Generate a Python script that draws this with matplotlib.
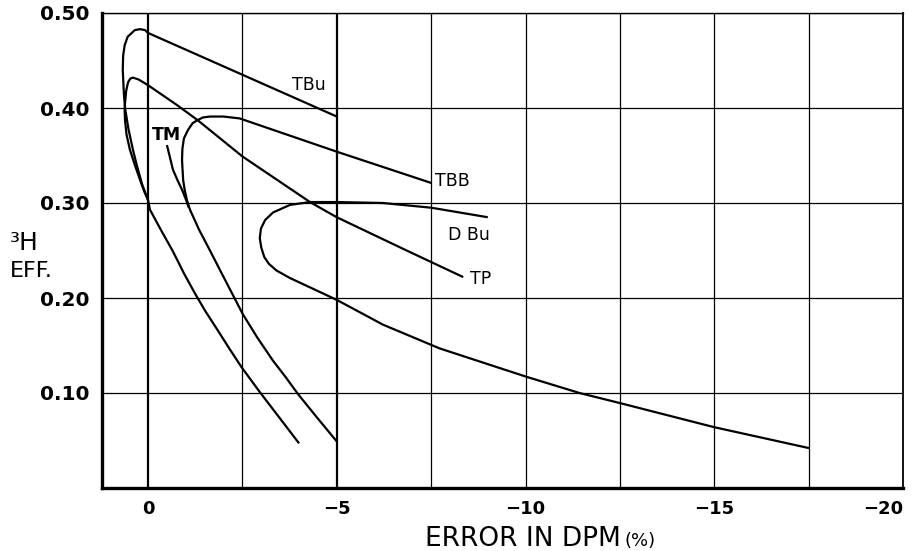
"""Tritium counting efficiency vs. error in DPM for several quench curves."""

import matplotlib

matplotlib.use("Agg")
import matplotlib.pyplot as plt

# curve points (x = error in DPM %, y = 3H efficiency)
tbu_x = [-4.0, -3.5, -2.96, -2.48, -2.15, -1.83, -1.52, -1.24, -0.95, -0.66, -0.35,
         -0.05, 0.0, 0.16, 0.30, 0.40, 0.52, 0.61, 0.64, 0.67, 0.66, 0.62, 0.54,
         0.35, 0.21, 0.08, 0.0, -2.5, -5.0]
tbu_y = [0.047, 0.073, 0.101, 0.127, 0.147, 0.167, 0.186, 0.205, 0.226, 0.249, 0.271,
         0.293, 0.303, 0.320, 0.340, 0.356, 0.378, 0.400, 0.415, 0.440, 0.455, 0.466,
         0.475, 0.482, 0.483, 0.482, 0.479, 0.435, 0.391]

tp_x = [0.0, 0.10, 0.21, 0.35, 0.48, 0.57, 0.61, 0.62, 0.61, 0.58, 0.53, 0.47, 0.40,
        0.25, 0.0, -0.77, -1.32, -2.5, -4.29, -5.0, -6.85, -8.35]
tp_y = [0.303, 0.312, 0.324, 0.340, 0.356, 0.372, 0.387, 0.397, 0.405, 0.418, 0.427,
        0.431, 0.432, 0.430, 0.424, 0.403, 0.387, 0.349, 0.301, 0.285, 0.250, 0.222]

tbb_x = [-5.0, -4.5, -3.97, -3.64, -3.31, -2.9, -2.51, -2.25, -1.95, -1.64, -1.35,
         -1.11, -1.03, -0.97, -0.93, -0.90, -0.91, -0.95, -1.06, -1.18, -1.30, -1.45,
         -1.64, -2.0, -2.43, -5.0, -7.51]
tbb_y = [0.049, 0.073, 0.099, 0.117, 0.134, 0.158, 0.183, 0.203, 0.226, 0.250, 0.272,
         0.293, 0.303, 0.314, 0.324, 0.345, 0.357, 0.368, 0.377, 0.384, 0.387, 0.390,
         0.391, 0.391, 0.389, 0.354, 0.321]

tm_x = [-0.50, -0.58, -0.66, -0.78, -0.90, -1.00, -1.08]
tm_y = [0.361, 0.348, 0.335, 0.324, 0.314, 0.304, 0.295]

dbu_x = [-17.51, -15.0, -12.54, -11.43, -10.03, -7.72, -6.22, -5.0, -4.3, -3.76,
         -3.4, -3.2, -3.08, -3.0, -2.96, -2.99, -3.10, -3.31, -3.76, -4.29, -5.0,
         -6.22, -7.51, -9.0]
dbu_y = [0.042, 0.064, 0.089, 0.100, 0.117, 0.147, 0.172, 0.198, 0.211, 0.221,
         0.229, 0.236, 0.243, 0.253, 0.263, 0.273, 0.282, 0.290, 0.298, 0.301, 0.301,
         0.300, 0.295, 0.285]

curve_names = ["TBu", "TBB", "D Bu", "TP", "TM"]
label_x = [-4.26, -7.59, -7.94, -8.52, -0.50]
label_y = [0.424, 0.323, 0.266, 0.220, 0.372]

x_ticks = [0, -5, -10, -15, -20]
x_tick_labels = ["0", "\u22125", "\u221210", "\u221215", "\u221220"]
x_grid = [0, -2.5, -5, -7.5, -10, -12.5, -15, -17.5]
y_ticks = [0.1, 0.2, 0.3, 0.4, 0.5]
y_tick_labels = ["0.10", "0.20", "0.30", "0.40", "0.50"]


def main() -> None:
    fig = plt.figure(figsize=(9.18, 5.51), dpi=100)
    ax = fig.add_axes([102 / 918, 63 / 551, 801 / 918, 475 / 551])

    ax.set_xlim(1.22, -20)
    ax.set_ylim(0, 0.5)

    for gx in x_grid:
        heavy = gx in (0, -5)
        ax.axvline(gx, color="black", lw=1.6 if heavy else 0.9, zorder=1)
    for gy in y_ticks:
        ax.axhline(gy, color="black", lw=0.9, zorder=1)

    for xs, ys in [(tbu_x, tbu_y), (tp_x, tp_y), (tbb_x, tbb_y), (tm_x, tm_y), (dbu_x, dbu_y)]:
        ax.plot(xs, ys, color="black", lw=1.6, solid_capstyle="butt",
                solid_joinstyle="round", zorder=3)

    for name, lx, ly in zip(curve_names, label_x, label_y):
        ha = "center" if name in ("TBu", "TM") else "left"
        ax.text(lx, ly, name, ha=ha, va="center", fontsize=12.5, color="black",
                fontweight="bold" if name == "TM" else "normal")

    ax.set_xticks(x_ticks)
    ax.set_xticklabels(x_tick_labels, fontsize=13, fontweight="bold")
    ax.get_xticklabels()[-1].set_horizontalalignment("right")
    ax.set_yticks(y_ticks)
    ax.set_yticklabels(y_tick_labels, fontsize=14.5, fontweight="bold")
    ax.tick_params(length=0, pad=9)

    ax.spines["left"].set_linewidth(2.4)
    ax.spines["bottom"].set_linewidth(2.4)
    ax.spines["right"].set_linewidth(1.3)
    ax.spines["top"].set_linewidth(1.0)

    fig.text(425 / 918, 1 - 546 / 551, "ERROR IN DPM", fontsize=19, va="baseline", ha="left")
    fig.text(625 / 918, 1 - 546 / 551, "(%)", fontsize=13, va="baseline", ha="left")
    fig.text(10 / 918, 1 - 250 / 551, "\u00b3H", fontsize=18, va="baseline", ha="left")
    fig.text(10 / 918, 1 - 277 / 551, "EFF.", fontsize=16, va="baseline", ha="left")

    fig.savefig("out.png", dpi=100)
    plt.close(fig)


if __name__ == "__main__":
    main()
